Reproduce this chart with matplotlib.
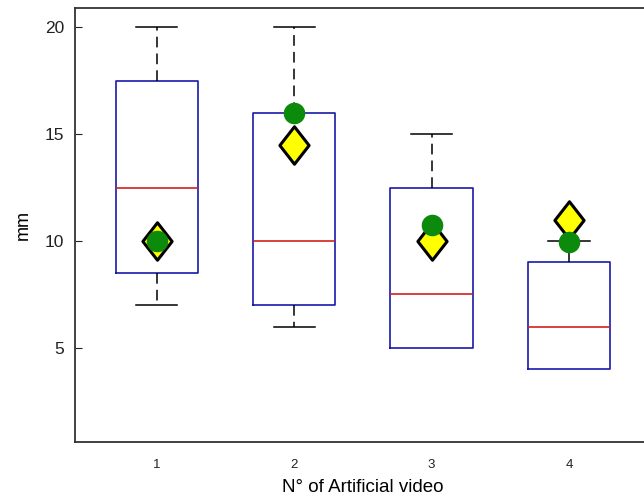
import matplotlib.pyplot as plt
from matplotlib.path import Path

plt.rcParams['font.family'] = ['Liberation Sans', 'DejaVu Sans']

videos = [1, 2, 3, 4]
q1 = [8.5, 7.0, 5.0, 4.0]
medians = [12.5, 10.0, 7.5, 6.0]
q3 = [17.5, 16.0, 12.5, 9.0]
whisk_lo = [7.0, 6.0, 5.0, 4.0]
whisk_hi = [20.0, 20.0, 15.0, 10.0]
diamond_vals = [10.0, 14.5, 10.0, 11.0]
circle_vals = [10.0, 16.0, 10.75, 9.95]


def draw_chart():
    fig = plt.figure(figsize=[6.44, 5.0], dpi=100)
    ax = fig.add_axes([75 / 644, 58 / 500, 0.895, 434 / 500])

    stats = []
    for i in range(len(videos)):
        stats.append(dict(med=medians[i], q1=q1[i], q3=q3[i],
                          whislo=whisk_lo[i], whishi=whisk_hi[i],
                          fliers=[], label=str(videos[i])))

    res = ax.bxp(stats, positions=videos, widths=0.6, showfliers=False,
                 boxprops=dict(color='#1a1aa8', linewidth=1.2),
                 medianprops=dict(color='#d02020', linewidth=1.2),
                 whiskerprops=dict(color='black', linewidth=1.1,
                                   linestyle=(0, (7, 4))),
                 capprops=dict(color='black', linewidth=1.1),
                 capwidths=0.3)
    # no lower whisker/cap where it coincides with the box
    for i in range(len(videos)):
        if whisk_lo[i] == q1[i]:
            res['caps'][2 * i].set_visible(False)
            res['whiskers'][2 * i].set_visible(False)

    # taller-than-wide diamond
    diamond = Path([(0, 1), (0.78, 0), (0, -1), (-0.78, 0), (0, 1)],
                   [Path.MOVETO, Path.LINETO, Path.LINETO, Path.LINETO,
                    Path.CLOSEPOLY])
    ax.plot(videos, diamond_vals, linestyle='none', marker=diamond,
            markersize=27, markerfacecolor='#ffff00',
            markeredgecolor='black', markeredgewidth=2.2, zorder=5)
    ax.plot(videos, circle_vals, linestyle='none', marker='o',
            markersize=14.5, markerfacecolor='#0b8a0b',
            markeredgecolor='#0b8a0b', zorder=6)

    ax.set_xlim(0.405, 4.6)
    ax.set_ylim(0.6, 20.9)
    ax.set_yticks([5, 10, 15, 20])
    ax.set_xticks(videos)
    ax.set_xticklabels([str(v) for v in videos])
    ax.tick_params(axis='y', direction='in', length=5, labelsize=12.5,
                   pad=8, colors='#222222')
    ax.tick_params(axis='x', length=0, labelsize=9.5, pad=12,
                   colors='#222222')
    for s in ax.spines.values():
        s.set_color('#333333')
        s.set_linewidth(1.3)
    ax.spines['right'].set_visible(False)

    ax.set_ylabel('mm', fontsize=13, labelpad=9)
    ax.set_xlabel('N° of Artificial video', fontsize=13.5, labelpad=6)

    plt.savefig('out.png', dpi=100, facecolor='white')


if __name__ == '__main__':
    draw_chart()
